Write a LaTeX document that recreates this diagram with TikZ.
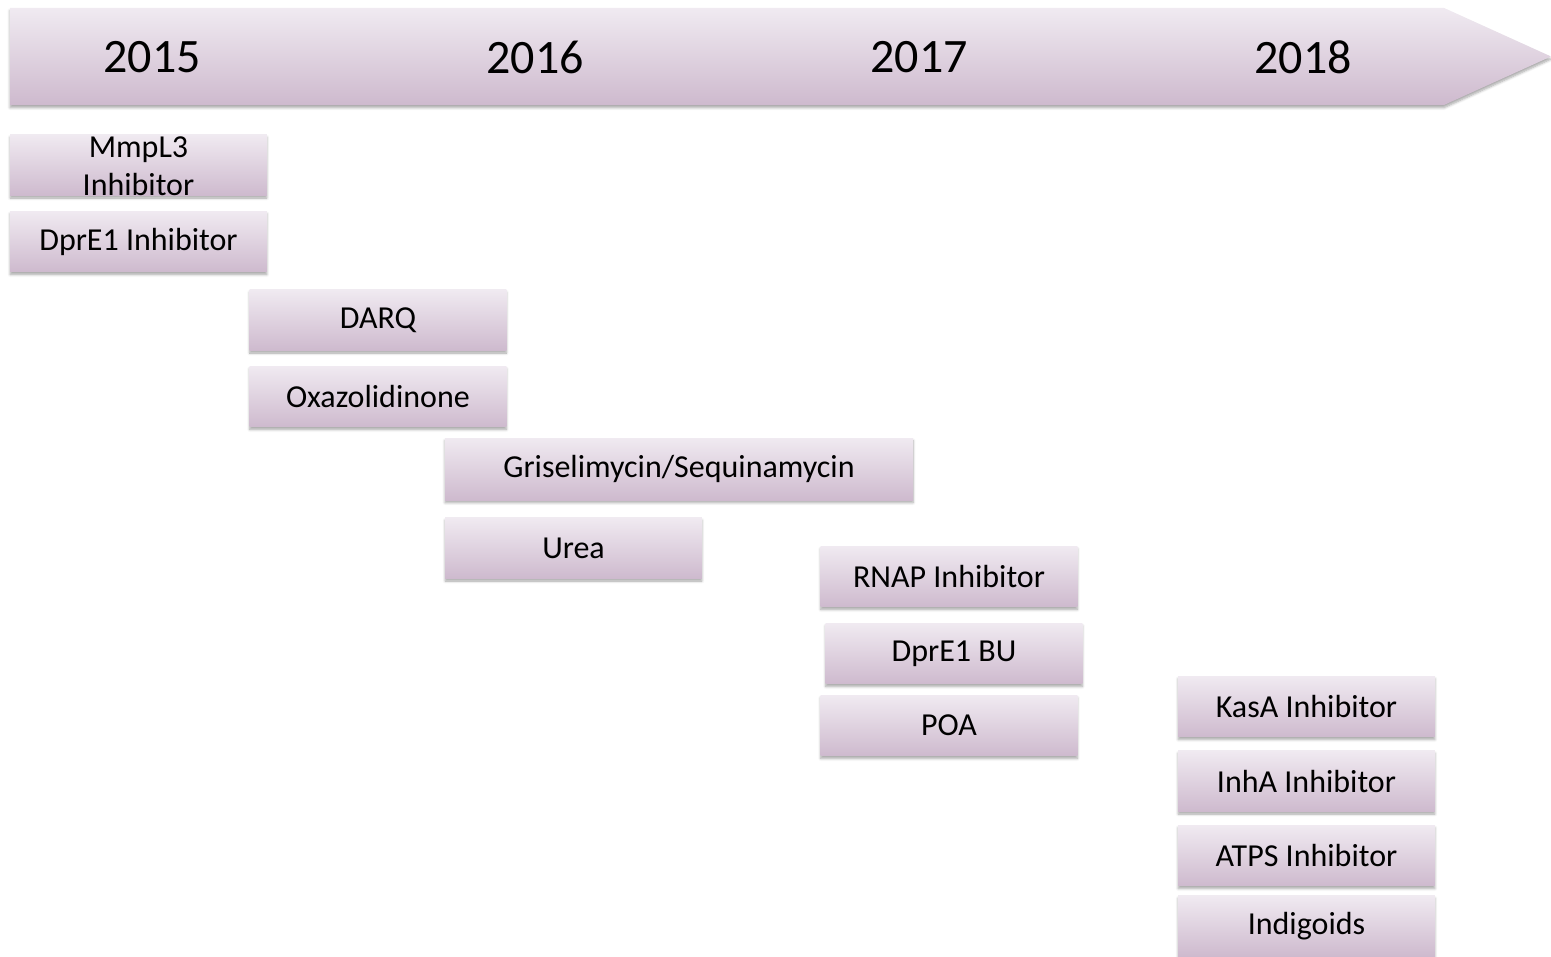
\documentclass[tikz,border=0pt]{standalone}
\usepackage{fontspec}
\setmainfont{Carlito}
\usetikzlibrary{shadows.blur}
\definecolor{lilactop}{HTML}{F0EAF1}
\definecolor{lilacbot}{HTML}{CEBACE}
\tikzset{
  x=0.75pt, y=-0.75pt,
  shadowed/.style={blur shadow={shadow xshift=0pt, shadow yshift=-2pt, shadow blur steps=6, shadow opacity=35}},
  box/.style={shadowed, top color=lilactop, bottom color=lilacbot, draw=none, inner sep=0pt,
    minimum width=192.5pt, minimum height=45.5pt, font=\fontsize{24}{28.5}\selectfont, text=black, align=center},
  year/.style={font=\fontsize{36}{40}\selectfont, text=black, inner sep=0pt}
}
\begin{document}
\begin{tikzpicture}
\useasboundingbox (0,0) rectangle (1551,956);
\shade[shadowed, top color=lilactop, bottom color=lilacbot]
  (10,8) -- (1444,8) -- (1551,56.5) -- (1444,105) -- (10,105) -- cycle;
\node[year] (y2015) at (152,57) {2015};
\node[year] (y2016) at (535,57) {2016};
\node[year] (y2017) at (919,57) {2017};
\node[year] (y2018) at (1303,57) {2018};

\node[box] (mmpl3) at (138.5,165) {};
\node[text width=180pt, align=center, font=\fontsize{24}{28.5}\selectfont, inner sep=0pt] (mmpl3t) at (138.5,166) {MmpL3\\Inhibitor};
\node[box] (dpre1) at (138.5,241.5) {DprE1 Inhibitor};
\node[box] (darq) at (378,320) {DARQ};
\node[box] (oxa) at (378,396.5) {Oxazolidinone};
\node[box, minimum width=351pt, minimum height=46.5pt] (gris) at (679,469) {Griselimycin/Sequinamycin};
\node[box] (urea) at (573.5,548) {Urea};
\node[box] (rnap) at (949,576.5) {RNAP Inhibitor};
\node[box] (dpre1bu) at (954,653.5) {DprE1 BU};
\node[box] (poa) at (949,725.5) {POA};
\node[box] (kasa) at (1306.5,706.5) {KasA Inhibitor};
\node[box] (inha) at (1306.5,781) {InhA Inhibitor};
\node[box] (atps) at (1306.5,855.5) {ATPS Inhibitor};
\node[box] (indi) at (1306.5,926) {Indigoids};
\end{tikzpicture}
\end{document}
